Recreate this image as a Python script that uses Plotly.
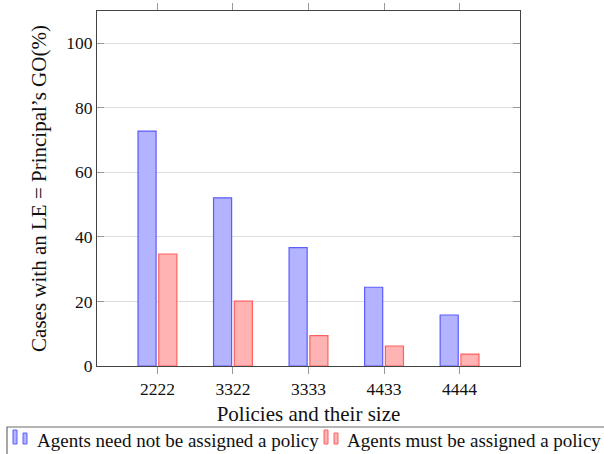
import plotly.graph_objects as go

# Policy configurations and the share of cases (%) where the LE equals the principal's GO
policies = ["2222", "3322", "3333", "4433", "4444"]
need_not_assigned = [72.8, 52.1, 36.7, 24.4, 15.8]
must_assigned = [34.7, 20.1, 9.4, 6.2, 3.7]

series_names = ["Agents need not be assigned a policy", "Agents must be assigned a policy"]
y_ticks = [0, 20, 40, 60, 80, 100]

FONT = "Liberation Serif"
FILLS = ["#b3b3ff", "#ffb3b3"]
EDGES = ["#5c5cff", "#ff6060"]

W, H = 604, 454
L, R, T, B = 97, 84, 11, 88
PW, PH = W - L - R, H - T - B


def px_x(px):
    """Horizontal page pixel -> paper coordinate."""
    return (px - L) / PW


def px_y(py):
    """Vertical page pixel -> paper coordinate."""
    return (H - B - py) / PH


fig = go.Figure()
for vals, name, fill, edge in zip([need_not_assigned, must_assigned], series_names, FILLS, EDGES):
    fig.add_trace(go.Bar(
        x=policies, y=vals, name=name, showlegend=False,
        marker=dict(color=fill, line=dict(color=edge, width=1.2)),
    ))

# pgfplots-style legend row below the axis: framed box, two-bar icons, labels
shapes = [dict(
    type="rect", xref="paper", yref="paper",
    x0=px_x(7), x1=px_x(614), y0=px_y(427), y1=px_y(464),
    line=dict(color="#6a6a6a", width=1.2), fillcolor="rgba(0,0,0,0)", layer="above",
)]
annotations = []
for icon_left, text_left, name, fill, edge in zip([13, 324], [35, 345], series_names, FILLS, EDGES):
    for dx, top in [(0, 430), (10, 433)]:
        shapes.append(dict(
            type="rect", xref="paper", yref="paper",
            x0=px_x(icon_left + dx), x1=px_x(icon_left + dx + 4),
            y0=px_y(444), y1=px_y(top),
            line=dict(color=edge, width=1), fillcolor=fill, layer="above",
        ))
    annotations.append(dict(
        text=name, xref="paper", yref="paper", x=px_x(text_left), y=px_y(440),
        xanchor="left", yanchor="middle", showarrow=False,
        font=dict(family=FONT, size=19, color="#111111"),
    ))

fig.update_layout(
    width=W, height=H,
    margin=dict(l=L, r=R, t=T, b=B, autoexpand=False),
    paper_bgcolor="white", plot_bgcolor="white",
    font=dict(family=FONT, size=17.5, color="#111111"),
    barmode="group", bargap=0.45, bargroupgap=0.13,
    showlegend=False,
    shapes=shapes, annotations=annotations,
)

fig.update_xaxes(
    type="category", range=[-0.8, 4.8], automargin=False,
    showline=True, linecolor="#444444", linewidth=1, mirror="ticks",
    ticks="outside", ticklen=7, tickcolor="#999999", tickwidth=1,
    showgrid=False,
    title=dict(text="Policies and their size", standoff=8),
)
fig.update_yaxes(
    range=[0, 110], tickvals=y_ticks, automargin=False,
    showline=True, linecolor="#444444", linewidth=1, mirror="ticks",
    ticks="inside", ticklen=7, tickcolor="#999999", tickwidth=1,
    showgrid=True, gridcolor="#dddddd", gridwidth=1,
    zeroline=False,
    title=dict(text="Cases with an LE = Principal\u2019s GO(%)", standoff=13),
)

fig.write_html("out.html")
